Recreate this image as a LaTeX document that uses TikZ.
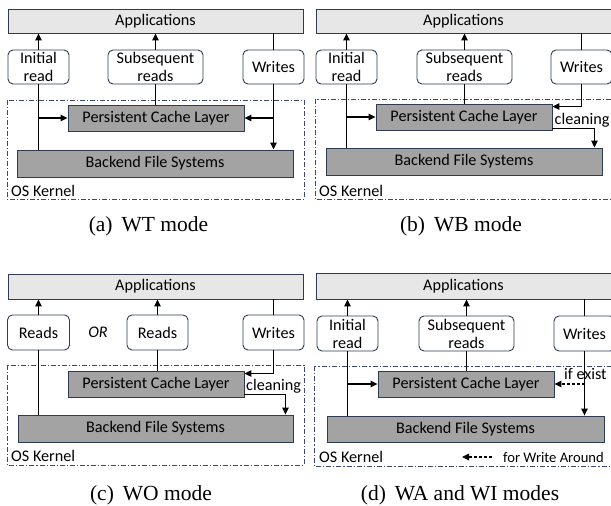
\documentclass[tikz,border=0pt]{standalone}
\usepackage{fontspec}
\setmainfont{Carlito}
\newfontfamily\capfont{Liberation Serif}
\usetikzlibrary{arrows.meta,calc}
\definecolor{edge}{HTML}{2F3B52}
\definecolor{kern}{HTML}{3B4A6B}
\definecolor{appfill}{HTML}{E7E7E7}
\definecolor{layerfill}{HTML}{A3A3A3}
\begin{document}
\begin{tikzpicture}[x=1pt,y=-1pt,
  every node/.style={inner sep=0pt,font=\fontsize{16.2}{18}\selectfont},
  appbox/.style={draw=edge,fill=appfill,line width=0.9pt,minimum height=24pt},
  opbox/.style={draw=edge,fill=white,rounded corners=5pt,line width=0.9pt,align=center,minimum height=34pt},
  layerbox/.style={draw=edge,fill=layerfill,line width=0.9pt,minimum height=26pt},
  kernelbox/.style={draw=kern,line width=0.9pt,dash pattern=on 5pt off 2pt on 1.2pt off 2pt},
  conn/.style={line width=1.05pt,black},
  arr/.style={conn,-{Triangle[length=7pt,width=6.5pt]}},
  dsh/.style={dash pattern=on 3pt off 2pt},
  lbl/.style={anchor=base west},
  captext/.style={anchor=base,font=\capfont\fontsize{21.5}{24}\selectfont}]
\useasboundingbox (0,0) rectangle (611,506);
\clip (0,0) rectangle (611,506);

% ---------------- (a) WT mode
\draw[kernelbox] (7,100) rectangle (304,199);
\node[appbox,minimum width=295pt] (aApps) at (155.5,21) {Applications};
\node[opbox,minimum width=61pt] (aIR) at (38.5,67) {Initial\\read};
\node[opbox,minimum width=95pt] (aSR) at (155.5,67) {Subsequent\\reads};
\node[opbox,minimum width=61pt] (aWR) at (273.5,67) {Writes};
\node[layerbox,minimum width=176pt] (aCache) at (156,118) {Persistent Cache Layer};
\node[layerbox,minimum width=276pt,minimum height=27pt] (aBack) at (155,163.5) {Backend File Systems};
\node[lbl] (aOS) at (11,196) {OS Kernel};
\node[captext] (aCap) at (148.5,231) {(a)\hspace{9pt}WT mode};
\draw[arr] (aIR.north) -- (aIR.north |- aApps.south);
\draw[conn] (aIR.south) -- (aIR.south |- aBack.north);
\draw[arr] (aIR.south |- aCache.west) -- (aCache.west);
\draw[arr] (aSR.north) -- (aSR.north |- aApps.south);
\draw[conn] (aSR.south) -- (aSR.south |- aCache.north);
\draw[conn] (aWR.north) -- (aWR.north |- aApps.south);
\draw[arr] (aWR.south) -- (aWR.south |- aBack.north);
\draw[arr] (aWR.south |- aCache.east) -- (aCache.east);

% ---------------- (b) WB mode
\draw[kernelbox] (315,99) rectangle (613,199);
\node[appbox,minimum width=295pt] (bApps) at (463.5,21) {Applications};
\node[opbox,minimum width=61pt] (bIR) at (346.5,67) {Initial\\read};
\node[opbox,minimum width=95pt] (bSR) at (464.5,67) {Subsequent\\reads};
\node[opbox,minimum width=61pt] (bWR) at (581.5,67) {Writes};
\node[layerbox,minimum width=176pt] (bCache) at (464,117) {Persistent Cache Layer};
\node[layerbox,minimum width=276pt,minimum height=27pt] (bBack) at (464,161.5) {Backend File Systems};
\node[lbl] (bOS) at (319,196) {OS Kernel};
\node[captext] (bCap) at (461,231) {(b)\hspace{9pt}WB mode};
\draw[arr] (bIR.north) -- (bIR.north |- bApps.south);
\draw[conn] (bIR.south) -- (bIR.south |- bBack.north);
\draw[arr] (bIR.south |- bCache.west) -- (bCache.west);
\draw[arr] (bSR.north) -- (bSR.north |- bApps.south);
\draw[conn] (bSR.south) -- (bSR.south |- bCache.north);
\draw[conn] (bWR.north) -- (bWR.north |- bApps.south);
\draw[arr] (bWR.south) |- ($(bCache.north east)+(0,3)$);
\draw[arr] ($(bCache.south east)+(0,-2)$) -| ([xshift=-8pt]bBack.north east);
\node[lbl] (bClean) at (554.5,124) {cleaning};

% ---------------- (c) WO mode
\draw[kernelbox] (7,365) rectangle (304,465);
\node[appbox,minimum width=295pt,minimum height=25pt] (cApps) at (155.5,286.5) {Applications};
\node[opbox,minimum width=62pt,minimum height=35pt] (cR1) at (38.5,332.5) {Reads};
\node (cOR) at (98,332.5) {\itshape OR};
\node[opbox,minimum width=61pt,minimum height=35pt] (cR2) at (157.5,332.5) {Reads};
\node[opbox,minimum width=61pt,minimum height=35pt] (cWR) at (273.5,332.5) {Writes};
\node[layerbox,minimum width=176pt] (cCache) at (156,384) {Persistent Cache Layer};
\node[layerbox,minimum width=275pt,minimum height=27pt] (cBack) at (155.5,428.5) {Backend File Systems};
\node[lbl] (cOS) at (11,461) {OS Kernel};
\node[captext] (cCap) at (151,500) {(c)\hspace{9pt}WO mode};
\draw[arr] (cR1.north) -- (cR1.north |- cApps.south);
\draw[conn] (cR1.south) -- (cR1.south |- cBack.north);
\draw[arr] (cR2.north) -- (cR2.north |- cApps.south);
\draw[conn] (cR2.south) -- (cR2.south |- cCache.north);
\draw[conn] (cWR.north) -- (cWR.north |- cApps.south);
\draw[arr] (cWR.south) |- ($(cCache.north east)+(0,3)$);
\draw[arr] ($(cCache.south east)+(0,-3)$) -| ([xshift=-8pt]cBack.north east);
\node[lbl] (cClean) at (246,390) {cleaning};

% ---------------- (d) WA and WI modes
\draw[kernelbox] (314,366) rectangle (613,466);
\node[appbox,minimum width=295pt,minimum height=26pt] (dApps) at (463.5,286) {Applications};
\node[opbox,minimum width=61pt,minimum height=35pt] (dIR) at (347.5,333.5) {Initial\\read};
\node[opbox,minimum width=95pt,minimum height=35pt] (dSR) at (466.5,333.5) {Subsequent\\reads};
\node[opbox,minimum width=61pt,minimum height=35pt] (dWR) at (584.5,333.5) {Writes};
\node[layerbox,minimum width=176pt] (dCache) at (466,384) {Persistent Cache Layer};
\node[layerbox,minimum width=277pt] (dBack) at (465.5,429) {Backend File Systems};
\node[lbl] (dOS) at (319,462) {OS Kernel};
\node[captext] (dCap) at (460,500) {(d)\hspace{9pt}WA and WI modes};
\draw[arr] (dIR.north) -- (dIR.north |- dApps.south);
\draw[conn] (dIR.south) -- (dIR.south |- dBack.north);
\draw[arr] (dIR.south |- dCache.west) -- (dCache.west);
\draw[arr] (dSR.north) -- (dSR.north |- dApps.south);
\draw[conn] (dSR.south) -- (dSR.south |- dCache.north);
\draw[conn] (dWR.north) -- (dWR.north |- dApps.south);
\draw[arr] (dWR.south) -- (dWR.south |- dBack.north);
\draw[arr,dsh] (dWR.south |- dCache.east) -- (dCache.east);
\node[lbl] (dIf) at (564,379) {if exist};
\coordinate (dLegS) at (492,457);
\coordinate (dLegE) at (462,457);
\draw[arr,dsh] (dLegS) -- (dLegE);
\node[lbl,font=\fontsize{14.6}{16}\selectfont] (dLeg) at (503,462) {for Write Around};
\end{tikzpicture}
\end{document}
